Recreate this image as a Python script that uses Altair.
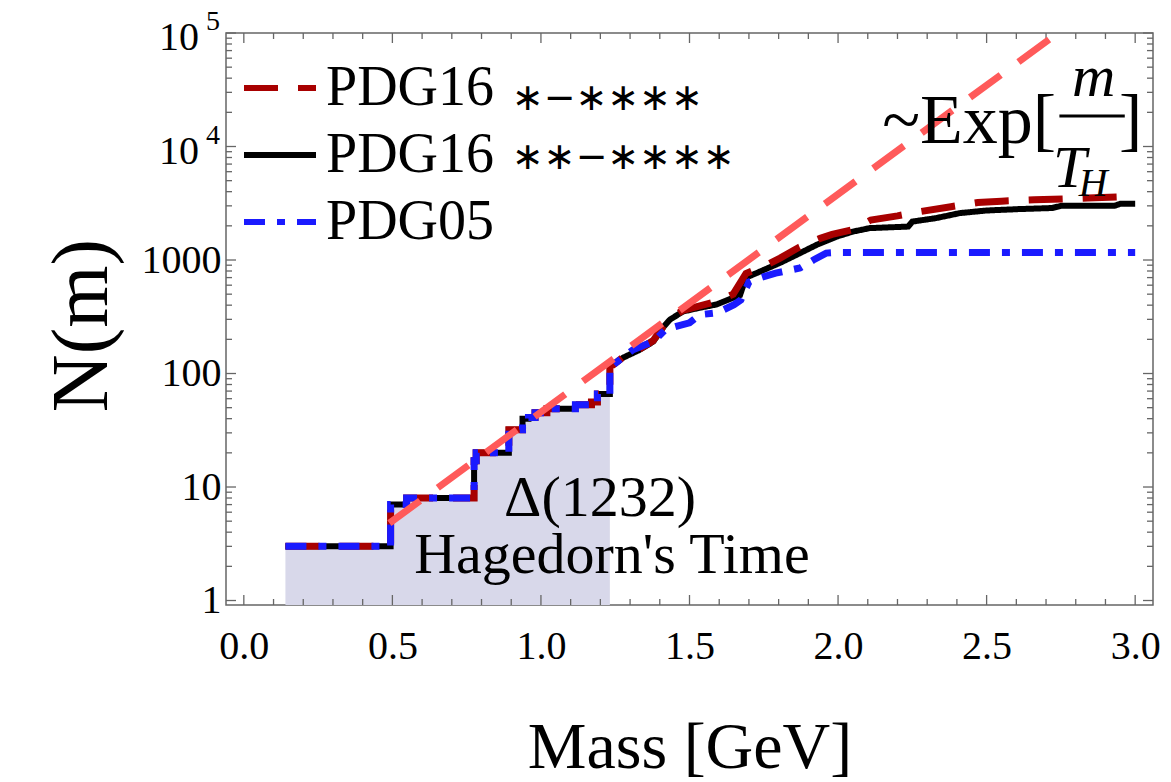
import altair as alt
import pandas as pd

# ---------------- data ----------------
# common low-mass staircase (identical for the three lists)
low_m = [0.14, 0.494, 0.494, 0.548, 0.548, 0.775, 0.775, 0.782, 0.782, 0.892, 0.892,
         0.938, 0.938, 0.958, 0.958, 0.98, 0.98, 1.02, 1.02, 1.116, 1.116, 1.17, 1.17,
         1.19, 1.19, 1.232, 1.232]
low_n = [3, 3, 7, 7, 8, 8, 17, 17, 20, 20, 32, 32, 40, 40, 41, 41, 45, 45, 49, 49,
         53, 53, 56, 56, 66, 66, 118]

# PDG16 **-**** (black)
bk_m = [1.243, 1.277, 1.333, 1.378, 1.412, 1.434, 1.478, 1.535, 1.59, 1.647, 1.67, 1.69,
        1.737, 1.805, 1.872, 1.928, 1.996, 2.05, 2.107, 2.236, 2.25, 2.33, 2.41, 2.50,
        2.61, 2.72, 2.75, 2.93, 2.95, 3.0]
bk_n = [119, 138, 162, 191, 256, 298, 352, 380, 405, 465, 490, 700, 790, 945, 1150, 1360,
        1610, 1780, 1910, 1970, 2180, 2340, 2590, 2730, 2810, 2870, 3000, 3000, 3130, 3130]

# PDG16 *-**** (dark red)
rd_m = [1.243, 1.277, 1.333, 1.378, 1.412, 1.434, 1.478, 1.535, 1.59, 1.647, 1.69, 1.75,
        1.805, 1.87, 1.94, 1.98, 2.05, 2.11, 2.2, 2.28, 2.38, 2.47, 2.55, 2.66, 2.84, 2.95,
        2.97, 3.0]
rd_n = [119, 140, 165, 195, 262, 305, 360, 395, 430, 500, 760, 880, 1040, 1300, 1550,
        1680, 1850, 2250, 2450, 2680, 2950, 3210, 3300, 3390, 3510, 3600, 3750, 3750]

# PDG05 (blue)
bl_m = [1.243, 1.31, 1.378, 1.42, 1.50, 1.535, 1.594, 1.65, 1.673, 1.70, 1.717, 1.79,
        1.872, 1.917, 1.96, 2.0, 3.0]
bl_n = [119, 162, 191, 245, 280, 330, 343, 404, 445, 640, 670, 767, 850, 1000, 1150,
        1165, 1165]

# ~Exp[m/T_H] guide line (end points)
exp_m = [0.49, 2.74]
exp_n = [4.8, 100000]

names = ["PDG16 ∗−∗∗∗∗", "PDG16 ∗∗−∗∗∗∗", "PDG05"]
stars = ["∗−∗∗∗∗", "∗∗−∗∗∗∗"]
colors = ["#A80000", "#000000", "#1A1AFF"]
dashes = [[34, 20], [1, 0], [21, 12, 8, 12]]

x_ticks = [0.0, 0.5, 1.0, 1.5, 2.0, 2.5, 3.0]
y_ticks = [1, 10, 100, 1000, 10000, 100000]
y_pow_vals = [10000, 100000]
y_pow_exps = ["4", "5"]

X_DOMAIN = [-0.06, 3.06]
Y_DOMAIN = [0.913, 100000]

# ---------------- tables ----------------
rows = []
for name, mm, nn in [(names[0], low_m + rd_m, low_n + rd_n),
                     (names[1], low_m + bk_m, low_n + bk_n),
                     (names[2], low_m + bl_m, low_n + bl_n)]:
    for i, (a, b) in enumerate(zip(mm, nn)):
        rows.append({"series": name, "m": a, "n": b, "i": i})
curves = pd.DataFrame(rows)

area_df = pd.DataFrame({"m": low_m[:-1], "n": low_n[:-1], "base": Y_DOMAIN[0]})
exp_df = pd.DataFrame({"m": exp_m, "n": exp_n})

x_minor = [round(0.1 * k, 1) for k in range(0, 31) if k % 5 != 0]
y_minor = [k * 10 ** d for d in range(0, 5) for k in range(2, 10)]
xmaj_df = pd.DataFrame({"m": x_ticks})
xmin_df = pd.DataFrame({"m": x_minor})
ymaj_df = pd.DataFrame({"n": y_ticks})
ymin_df = pd.DataFrame({"n": y_minor})
pow_df = pd.DataFrame({"n": y_pow_vals, "e": y_pow_exps, "b": ["10", "10"]})

ann_c = pd.DataFrame({"m": [1.199, 1.239], "n": [5.6, 1.76],
                      "t": ["Δ(1232)", "Hagedorn's Time"]})
ann_r = pd.DataFrame({"m": [2.734], "n": [10760], "t": ["~Exp["]})
ann_b = pd.DataFrame({"m": [2.985], "n": [10760], "t": ["]"]})
ann_it = pd.DataFrame({"m": [2.86, 2.78], "n": [27900, 4410], "t": ["m", "T"]})
ann_sub = pd.DataFrame({"m": [2.81], "n": [3670], "t": ["H"]})
frac_df = pd.DataFrame({"m": [2.745], "m2": [2.965], "n": [18600]})
stars_df = pd.DataFrame({"t": stars, "row": [0, 1]})

W, H = 927, 572
FONT = "Liberation Serif"
FRAME = "#666666"

xs = alt.Scale(domain=X_DOMAIN, nice=False, zero=False)
ys = alt.Scale(type="log", domain=Y_DOMAIN, nice=False)

x_axis = alt.Axis(values=x_ticks, format=".1f", ticks=False, domain=False, grid=False,
                  labelFont=FONT, labelFontSize=40, labelColor="black", labelPadding=21,
                  labelFlush=False, labelOverlap=False,
                  titleFont=FONT, titleFontSize=66, titleFontWeight="normal",
                  titleColor="black", titleY=162, titleBaseline="alphabetic")
y_axis = alt.Axis(values=y_ticks, ticks=False, domain=False, grid=False,
                  labelExpr="datum.value >= 10000 ? '' : format(datum.value, 'd')",
                  labelFont=FONT, labelFontSize=40, labelColor="black", labelPadding=5,
                  labelOverlap=False, labelFlush=False,
                  titleFont=FONT, titleFontSize=80, titleFontWeight="normal",
                  titleColor="black", titleX=-144, titleY=292, titleBaseline="middle")

X = alt.X("m:Q", scale=xs, axis=x_axis, title="Mass [GeV]")
Y = alt.Y("n:Q", scale=ys, axis=y_axis, title="N(m)")

leg = alt.Legend(title=None, orient="none", legendX=15, legendY=16, symbolType="stroke",
                 symbolSize=5184, symbolStrokeWidth=6, labelFont=FONT, labelFontSize=56,
                 labelColor="black", labelOffset=7, rowPadding=-9, padding=0, labelLimit=0,
                 labelExpr="split(datum.label, ' ')[0]")
C = alt.Color("series:N", scale=alt.Scale(domain=names, range=colors), legend=leg)
D = alt.StrokeDash("series:N", scale=alt.Scale(domain=names, range=dashes), legend=leg)

area = alt.Chart(area_df).mark_area(color="#D8D8EA", opacity=1).encode(
    x=X, y=Y, y2=alt.Y2("base:Q"))

def tick_layer(df, chan, length):
    layers = []
    if chan == "x":
        for y0, y1 in [(H, H - length), (0, length)]:
            layers.append(alt.Chart(df).mark_rule(color=FRAME, strokeWidth=1.3).encode(
                x=X, y=alt.value(y0), y2=alt.value(y1)))
    else:
        for x0, x1 in [(0, length), (W, W - length)]:
            layers.append(alt.Chart(df).mark_rule(color=FRAME, strokeWidth=1.3).encode(
                y=Y, x=alt.value(x0), x2=alt.value(x1)))
    return layers

ticks = (tick_layer(xmaj_df, "x", 10) + tick_layer(xmin_df, "x", 6) +
         tick_layer(ymaj_df, "y", 10) + tick_layer(ymin_df, "y", 6))

# power-of-ten tick labels (10^4, 10^5) with raised exponents
pow_base = alt.Chart(pow_df).mark_text(font=FONT, fontSize=40, color="black",
                                       align="right", baseline="middle", dy=5).encode(
    y=Y, x=alt.value(-27), text="b:N")
pow_exp = alt.Chart(pow_df).mark_text(font=FONT, fontSize=28, color="black",
                                      align="right", baseline="middle", dy=-11).encode(
    y=Y, x=alt.value(-6), text="e:N")

def series_layer(name, width):
    return alt.Chart(curves).transform_filter(alt.datum.series == name).mark_line(
        strokeWidth=width, strokeCap="butt", strokeJoin="miter").encode(
        x=X, y=Y, color=C, strokeDash=D, order="i:Q")

black = series_layer(names[1], 6)
red = series_layer(names[0], 7)
blue = series_layer(names[2], 7)

expline = alt.Chart(exp_df).mark_line(color="#FF5A5A", strokeWidth=7, strokeDash=[38, 22],
                                      strokeCap="butt").encode(x=X, y=Y)

big_c = alt.Chart(ann_c).mark_text(
    font=FONT, fontSize=58, color="black", align="center", baseline="alphabetic").encode(
    x=X, y=Y, text="t:N")
big_r = alt.Chart(ann_r).mark_text(
    font=FONT, fontSize=70, color="black", align="right", baseline="alphabetic").encode(
    x=X, y=Y, text="t:N")
big_b = alt.Chart(ann_b).mark_text(
    font=FONT, fontSize=70, color="black", align="center", baseline="alphabetic").encode(
    x=X, y=Y, text="t:N")
ital = alt.Chart(ann_it).mark_text(
    font=FONT, fontSize=60, fontStyle="italic", color="black", align="center",
    baseline="alphabetic").encode(x=X, y=Y, text="t:N")
sub = alt.Chart(ann_sub).mark_text(
    font=FONT, fontSize=40, fontStyle="italic", color="black", align="left",
    baseline="alphabetic").encode(x=X, y=Y, text="t:N")
frac = alt.Chart(frac_df).mark_rule(color="black", strokeWidth=3).encode(
    x=X, x2="m2:Q", y=Y)

# asterisk part of the legend labels
star_rows = [
    alt.Chart(stars_df[stars_df["row"] == r]).mark_text(
        font="DejaVu Sans", fontSize=38, color="black", align="left",
        baseline="middle").encode(x=alt.value(286), y=alt.value(yy), text="t:N")
    for r, yy in [(0, 66), (1, 125)]
]

chart = alt.layer(area, *ticks, black, red, blue, expline, big_c, big_r, big_b, ital, sub,
                  frac, pow_base, pow_exp, *star_rows
                  ).properties(
    width=W, height=H,
    autosize=alt.AutoSizeParams(type="none"),
    padding={"left": 226, "top": 33, "right": 18, "bottom": 177},
    background="white",
).configure_view(stroke=FRAME, strokeWidth=1.5)

chart.save("out.html", embed_options={"renderer": "svg", "actions": False})
